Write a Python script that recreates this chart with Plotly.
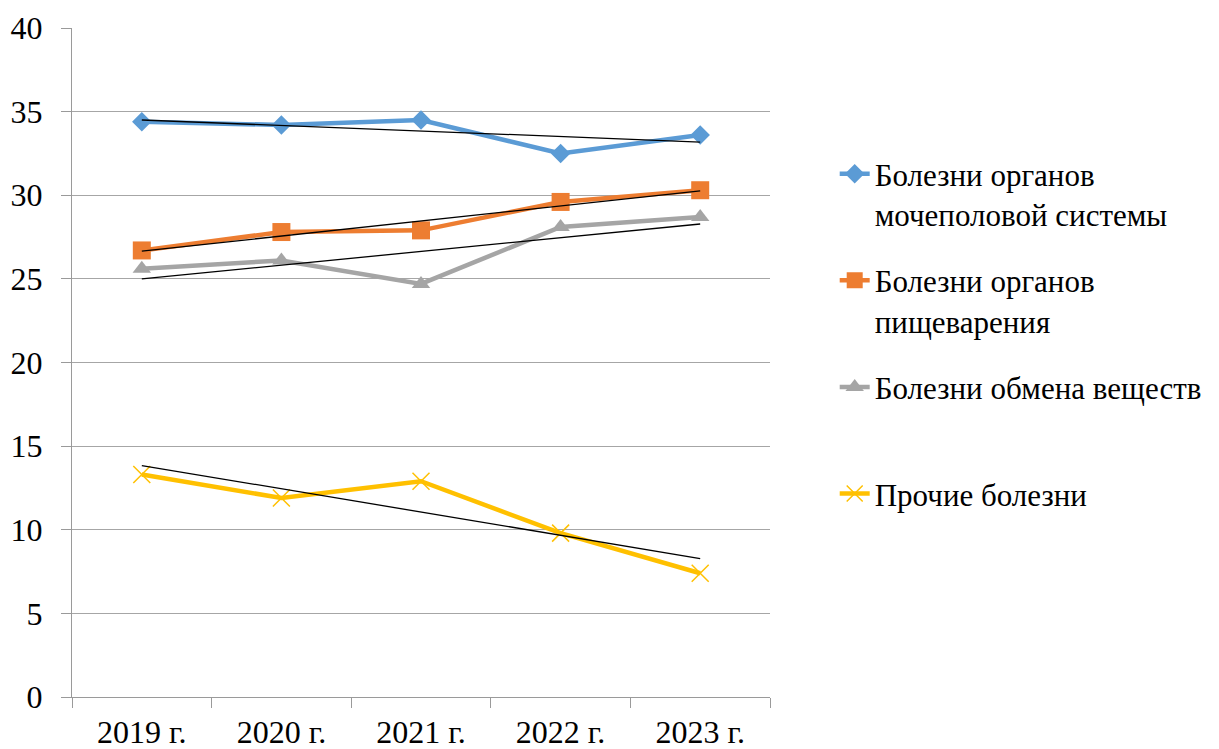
import numpy as np
import plotly.graph_objects as go

years = ["2019 г.", "2020 г.", "2021 г.", "2022 г.", "2023 г."]
urogenital = [34.4, 34.2, 34.5, 32.5, 33.6]
digestive = [26.7, 27.8, 27.9, 29.6, 30.3]
metabolic = [25.6, 26.1, 24.7, 28.1, 28.7]
other = [13.3, 11.9, 12.9, 9.8, 7.4]

names = [
    "Болезни органов<br>мочеполовой системы",
    "Болезни органов<br>пищеварения",
    "Болезни обмена веществ<br>&nbsp;",
    "Прочие болезни<br>&nbsp;",
]
colors = ["#5B9BD5", "#ED7D31", "#A5A5A5", "#FFC000"]
symbols = ["diamond", "square", "triangle-up", "x-thin"]
sizes = [15, 18, 16, 17]
series = [urogenital, digestive, metabolic, other]

fig = go.Figure()
for i, (vals, name, col, sym, sz) in enumerate(zip(series, names, colors, symbols, sizes)):
    marker = dict(symbol=sym, size=sz, color=col)
    if sym == "x-thin":
        marker["line"] = dict(color=col, width=1.5)
    fig.add_trace(go.Scatter(
        x=years, y=vals, name=name, mode="lines+markers",
        line=dict(color=col, width=4.5), marker=marker,
        legendgroup=f"g{i}",
    ))

idx = np.arange(len(years))
for vals in series:
    k, b = np.polyfit(idx, vals, 1)
    fig.add_trace(go.Scatter(
        x=years, y=k * idx + b, mode="lines",
        line=dict(color="black", width=1.3),
        showlegend=False, hoverinfo="skip",
    ))

FAM = "Liberation Serif"
fig.update_layout(
    template="none",
    width=1219, height=749,
    margin=dict(l=72, r=446, t=28, b=52),
    paper_bgcolor="white", plot_bgcolor="white",
    font=dict(family=FAM, size=32, color="black"),
    showlegend=True,
    legend=dict(
        x=1.0927, xanchor="left", y=0.822, yanchor="top",
        valign="top", tracegroupgap=23,
        font=dict(family=FAM, size=31, color="black"),
        itemwidth=30,
    ),
    xaxis=dict(
        type="category", range=[-0.5, 4.5],
        showline=True, linecolor="#9a9a9a", linewidth=1.3,
        ticks="outside", tickson="boundaries", ticklen=10, tickcolor="#9a9a9a",
        showgrid=False, tickfont=dict(family=FAM, size=32, color="black"),
        ticklabelstandoff=6,
    ),
    yaxis=dict(
        range=[0, 40], dtick=5,
        showline=True, linecolor="#9a9a9a", linewidth=1.3,
        ticks="outside", ticklen=10, tickcolor="#9a9a9a",
        showgrid=True, gridcolor="#a6a6a6", gridwidth=1.3,
        zeroline=False, tickfont=dict(family=FAM, size=32, color="black"),
        ticklabelstandoff=12,
    ),
)

fig.write_html("out.html")
